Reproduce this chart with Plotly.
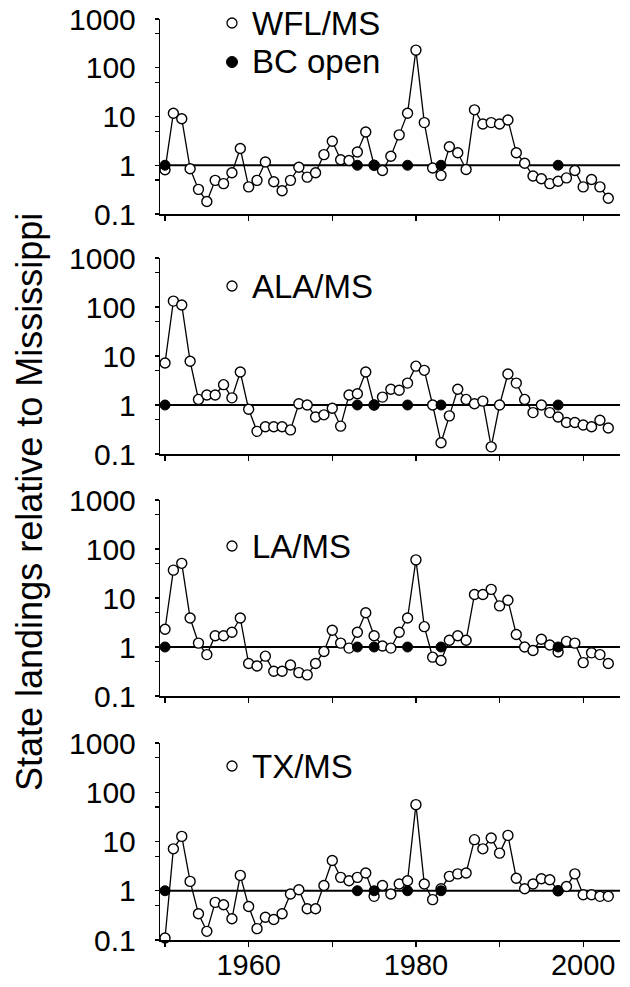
import plotly.graph_objects as go

years = list(range(1950, 2004))

wfl_ms = [0.81, 11.7, 9.0, 0.85, 0.32, 0.18, 0.49, 0.42, 0.70, 2.2,
          0.36, 0.49, 1.17, 0.46, 0.30, 0.49, 0.91, 0.57, 0.70, 1.65,
          3.1, 1.3, 1.25, 1.87, 4.8, 1.0, 0.78, 1.53, 4.2, 11.7,
          230, 7.5, 0.88, 0.62, 2.4, 1.8, 0.82, 13.7, 7.0, 7.5,
          7.0, 8.5, 1.8, 1.1, 0.6, 0.53, 0.42, 0.47, 0.55, 0.78,
          0.36, 0.51, 0.36, 0.21]
ala_ms = [7.2, 132, 110, 7.8, 1.3, 1.6, 1.6, 2.6, 1.4, 4.7,
          0.82, 0.29, 0.36, 0.36, 0.36, 0.31, 1.06, 1.0, 0.57, 0.63,
          0.86, 0.37, 1.6, 1.7, 4.7, 1.0, 1.45, 2.1, 2.0, 2.8,
          6.2, 5.1, 1.0, 0.17, 0.6, 2.1, 1.3, 1.06, 1.2, 0.14,
          1.0, 4.3, 2.8, 1.3, 0.7, 1.0, 0.7, 0.57, 0.44, 0.44,
          0.39, 0.36, 0.49, 0.34]
la_ms = [2.3, 37, 51, 3.9, 1.2, 0.7, 1.7, 1.7, 2.0, 3.9,
         0.46, 0.41, 0.65, 0.32, 0.32, 0.43, 0.30, 0.27, 0.46, 0.81,
         2.2, 1.2, 0.95, 2.0, 5.0, 1.7, 1.05, 0.95, 2.0, 3.9,
         60, 2.6, 0.62, 0.53, 1.37, 1.7, 1.37, 11.8, 11.8, 15,
         6.9, 9.0, 1.8, 1.0, 0.85, 1.44, 1.1, 0.79, 1.3, 1.2,
         0.48, 0.76, 0.7, 0.46]
tx_ms = [0.11, 7.1, 12.7, 1.55, 0.34, 0.15, 0.58, 0.52, 0.27, 2.05,
         0.48, 0.17, 0.29, 0.26, 0.34, 0.86, 1.05, 0.43, 0.43, 1.28,
         4.1, 1.87, 1.6, 1.87, 2.3, 0.77, 1.28, 0.86, 1.37, 1.6,
         56, 1.37, 0.66, 1.1, 1.96, 2.2, 2.3, 10.9, 7.1, 11.8,
         5.8, 13.3, 1.8, 1.1, 1.37, 1.75, 1.67, 1.0, 1.22, 2.2,
         0.83, 0.83, 0.77, 0.77]

bc_open_years = [1950, 1973, 1975, 1979, 1983, 1997]
bc_open_values = [1, 1, 1, 1, 1, 1]

series_names = ["WFL/MS", "ALA/MS", "LA/MS", "TX/MS"]
series = [wfl_ms, ala_ms, la_ms, tx_ms]

y_tickvals = [0.1, 0.5, 1, 5, 10, 50, 100, 500, 1000]
y_ticktext = ["0.1", "", "1", "", "10", "", "100", "", "1000"]
x_tickvals = [1950, 1960, 1970, 1980, 1990, 2000]
x_ticktext = ["", "1960", "", "1980", "", "2000"]

W, H = 630, 987
ML, MR, MT, MB = 160, 10, 19, 47
PW, PH = W - ML - MR, H - MT - MB


def px_x(px):
    return (px - ML) / PW


def px_y(py):
    return (H - MB - py) / PH


# panel pixel extents (top, bottom)
panels_px = [(19, 214), (258, 454), (500, 696), (743, 940)]
label_y_px = [23, 286, 546, 766]

FONT = "Liberation Sans, Arial, sans-serif"

fig = go.Figure()
layout = dict(
    width=W, height=H,
    margin=dict(l=ML, r=MR, t=MT, b=MB, autoexpand=False),
    paper_bgcolor="white", plot_bgcolor="white",
    showlegend=False,
    font=dict(family=FONT, size=29, color="black"),
)

shapes = []
annotations = []

for i, (name, vals) in enumerate(zip(series_names, series)):
    n = i + 1
    xa = "x" if n == 1 else f"x{n}"
    ya = "y" if n == 1 else f"y{n}"
    fig.add_trace(go.Scatter(
        x=years, y=vals, xaxis=xa, yaxis=ya, mode="lines+markers",
        line=dict(color="black", width=1.3),
        marker=dict(symbol="circle", size=10, color="white",
                    line=dict(color="black", width=1.4)),
        cliponaxis=False, name=name, hoverinfo="skip",
    ))
    fig.add_trace(go.Scatter(
        x=bc_open_years, y=bc_open_values, xaxis=xa, yaxis=ya, mode="markers",
        marker=dict(symbol="circle", size=10, color="black",
                    line=dict(color="black", width=1)),
        cliponaxis=False, name="BC open", hoverinfo="skip",
    ))
    top, bot = panels_px[i]
    xkey = "xaxis" if n == 1 else f"xaxis{n}"
    ykey = "yaxis" if n == 1 else f"yaxis{n}"
    layout[xkey] = dict(
        domain=[0, 1], anchor=ya, range=[1949.4, 2004.4], automargin=False,
        tickvals=x_tickvals, ticktext=x_ticktext,
        showticklabels=(n == 4), ticks="outside", ticklen=5, tickwidth=1.2,
        tickcolor="black", showline=True, linecolor="black", linewidth=1.6,
        showgrid=False, zeroline=False, ticklabelstandoff=-6,
        tickfont=dict(family=FONT, size=29, color="black"),
    )
    layout[ykey] = dict(
        domain=[px_y(bot), px_y(top)], anchor=xa, type="log", range=[-1, 3],
        automargin=False,
        tickvals=y_tickvals, ticktext=y_ticktext,
        ticks="outside", ticklen=4, tickwidth=1.2, tickcolor="black",
        showline=True, linecolor="black", linewidth=1.2,
        showgrid=False, zeroline=False, ticklabelstandoff=13,
        tickfont=dict(family=FONT, size=30, color="black"),
    )
    # reference line at 1
    shapes.append(dict(type="line", xref=f"{xa} domain", yref=ya,
                       x0=0, x1=1, y0=1, y1=1, layer="below",
                       line=dict(color="black", width=1.8)))
    # legend-like label
    ly = label_y_px[i]
    shapes.append(dict(type="circle", xref="paper", yref="paper",
                       xsizemode="pixel", ysizemode="pixel",
                       xanchor=px_x(232), yanchor=px_y(ly),
                       x0=-5, x1=5, y0=-5, y1=5,
                       line=dict(color="black", width=1.3), fillcolor="white"))
    annotations.append(dict(xref="paper", yref="paper", x=px_x(250), y=px_y(ly),
                            xanchor="left", yanchor="middle", showarrow=False,
                            text=name, font=dict(family=FONT, size=33, color="black")))

# BC open legend entry
shapes.append(dict(type="circle", xref="paper", yref="paper",
                   xsizemode="pixel", ysizemode="pixel",
                   xanchor=px_x(232), yanchor=px_y(62),
                   x0=-5.5, x1=5.5, y0=-5.5, y1=5.5,
                   line=dict(color="black", width=1), fillcolor="black"))
annotations.append(dict(xref="paper", yref="paper", x=px_x(250), y=px_y(61),
                        xanchor="left", yanchor="middle", showarrow=False,
                        text="BC open", font=dict(family=FONT, size=33, color="black")))

# shared y title
annotations.append(dict(xref="paper", yref="paper", x=px_x(29), y=px_y(502),
                        xanchor="center", yanchor="middle", showarrow=False,
                        textangle=-90, text="State landings relative to Mississippi",
                        font=dict(family=FONT, size=36, color="black")))

layout["shapes"] = shapes
layout["annotations"] = annotations
fig.update_layout(**layout)

reset_css = ("document.documentElement.style.margin='0';"
             "document.documentElement.style.padding='0';"
             "document.body.style.margin='0';"
             "document.body.style.padding='0';"
             "document.body.style.overflow='hidden';")
fig.write_html("out.html", post_script=reset_css,
               config={"displayModeBar": False, "staticPlot": True})
